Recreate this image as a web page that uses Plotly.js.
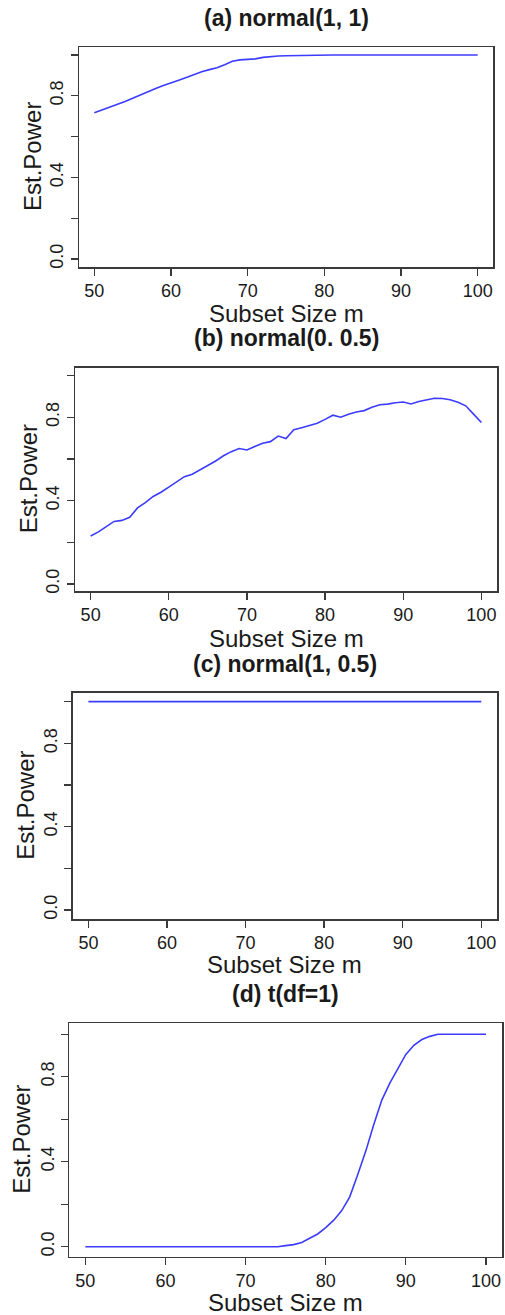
<!DOCTYPE html>
<html>
<head>
<meta charset="utf-8">
<script src="https://cdn.plot.ly/plotly-3.0.1.min.js"></script>
<style>
html,body{margin:0;padding:0;background:#fff;}
#chart{width:505px;height:1315px;}
</style>
</head>
<body>
<div id="chart"></div>
<script>
// ---- data ----
const subsetSize = [50,51,52,53,54,55,56,57,58,59,60,61,62,63,64,65,66,67,68,69,70,
  71,72,73,74,75,76,77,78,79,80,81,82,83,84,85,86,87,88,89,90,
  91,92,93,94,95,96,97,98,99,100];

const powerA = [0.717,0.730,0.745,0.758,0.772,0.788,0.805,0.820,0.836,0.850,0.862,
  0.876,0.890,0.905,0.918,0.928,0.937,0.952,0.969,0.976,0.978,
  0.981,0.988,0.993,0.995,0.996,0.997,0.998,1.0,1.0,1.0,
  1.0,1.0,1.0,1.0,1.0,1.0,1.0,1.0,1.0,1.0,
  1.0,1.0,1.0,1.0,1.0,1.0,1.0,1.0,1.0,1.0];

const powerB = [0.230,0.250,0.275,0.300,0.305,0.320,0.365,0.390,0.420,0.440,0.465,
  0.490,0.515,0.527,0.548,0.570,0.590,0.615,0.635,0.650,0.643,
  0.660,0.675,0.683,0.710,0.698,0.740,0.750,0.760,0.771,0.790,
  0.810,0.800,0.815,0.825,0.832,0.848,0.860,0.863,0.870,0.873,
  0.864,0.876,0.882,0.891,0.890,0.884,0.872,0.855,0.815,0.775];

const powerC = [1.0,1.0,1.0,1.0,1.0,1.0,1.0,1.0,1.0,1.0,1.0,
  1.0,1.0,1.0,1.0,1.0,1.0,1.0,1.0,1.0,1.0,
  1.0,1.0,1.0,1.0,1.0,1.0,1.0,1.0,1.0,1.0,
  1.0,1.0,1.0,1.0,1.0,1.0,1.0,1.0,1.0,1.0,
  1.0,1.0,1.0,1.0,1.0,1.0,1.0,1.0,1.0,1.0];

const powerD = [0,0,0,0,0,0,0,0,0,0,0,
  0,0,0,0,0,0,0,0,0,0,
  0,0,0,0,0.005,0.010,0.020,0.040,0.060,0.090,
  0.125,0.170,0.235,0.340,0.450,0.575,0.690,0.770,0.840,0.905,
  0.948,0.975,0.990,1.0,1.0,1.0,1.0,1.0,1.0,1.0];

const panelTitles = ["(a) normal(1, 1)", "(b) normal(0. 0.5)", "(c) normal(1, 0.5)", "(d) t(df=1)"];
const xTickVals = [50,60,70,80,90,100];
const xTickText = ["50","60","70","80","90","100"];
const yTickVals = [0,0.2,0.4,0.6,0.8,1.0];
const yTickText = ["0.0","","0.4","","0.8",""];
const xLabel = "Subset Size m";
const yLabel = "Est.Power";

// ---- layout geometry (pixels) ----
const W = 505, H = 1315;
const boxes = [
  {l:79,   r:493, t:47,    b:267,   yr:[-0.039,1.039], titleY:18,  xtY:313,  ytX:32},
  {l:75,   r:497, t:367.7, b:591,   yr:[-0.034,1.038], titleY:338, xtY:638,  ytX:28},
  {l:72.7, r:497, t:692.7, b:919,   yr:[-0.043,1.043], titleY:664, xtY:965,  ytX:26},
  {l:69.3, r:502, t:1023,  b:1256.7,yr:[-0.047,1.053], titleY:994, xtY:1302, ytX:22}
];
const series = [powerA, powerB, powerC, powerD];

const FONT = '"Liberation Sans", Arial, sans-serif';
const TXT = '#1a1a1a';
const BOX = '#3a3a3a';

const data = [];
const layout = {
  width: W, height: H,
  margin: {l:0, r:0, t:0, b:0},
  paper_bgcolor: '#fff', plot_bgcolor: '#fff',
  showlegend: false,
  font: {family: FONT, color: TXT},
  annotations: []
};

boxes.forEach((bx, i) => {
  const n = i === 0 ? '' : String(i + 1);
  data.push({
    x: subsetSize, y: series[i],
    type: 'scatter', mode: 'lines',
    xaxis: 'x' + n, yaxis: 'y' + n,
    line: {color: '#3c3cff', width: 1.6},
    hoverinfo: 'skip'
  });
  const common = {
    showgrid: false, zeroline: false,
    showline: true, mirror: true, linecolor: BOX, linewidth: 1.5,
    ticks: 'outside', ticklen: 7, tickwidth: 1.3, tickcolor: BOX,
    tickfont: {family: FONT, size: 18, color: TXT},
    fixedrange: true
  };
  layout['xaxis' + n] = Object.assign({}, common, {
    domain: [bx.l / W, bx.r / W],
    anchor: 'y' + n,
    range: [48, 102],
    tickmode: 'array', tickvals: xTickVals, ticktext: xTickText
  });
  layout['yaxis' + n] = Object.assign({}, common, {
    domain: [1 - bx.b / H, 1 - bx.t / H],
    anchor: 'x' + n,
    range: bx.yr,
    tickmode: 'array', tickvals: yTickVals, ticktext: yTickText,
    tickangle: -90
  });
  // panel title
  layout.annotations.push({
    text: '<b>' + panelTitles[i] + '</b>',
    xref: 'paper', yref: 'paper',
    x: ((bx.l + bx.r) / 2) / W, y: 1 - bx.titleY / H,
    xanchor: 'center', yanchor: 'middle', showarrow: false,
    font: {family: FONT, size: 23, color: TXT}
  });
  // x axis title
  layout.annotations.push({
    text: xLabel,
    xref: 'paper', yref: 'paper',
    x: ((bx.l + bx.r) / 2) / W, y: 1 - bx.xtY / H,
    xanchor: 'center', yanchor: 'middle', showarrow: false,
    font: {family: FONT, size: 24, color: TXT}
  });
  // y axis title
  layout.annotations.push({
    text: yLabel,
    xref: 'paper', yref: 'paper',
    x: bx.ytX / W, y: 1 - ((bx.t + bx.b) / 2) / H,
    xanchor: 'center', yanchor: 'middle', showarrow: false, textangle: -90,
    font: {family: FONT, size: 24, color: TXT}
  });
});

Plotly.newPlot('chart', data, layout, {staticPlot: true, displayModeBar: false});
</script>
</body>
</html>
